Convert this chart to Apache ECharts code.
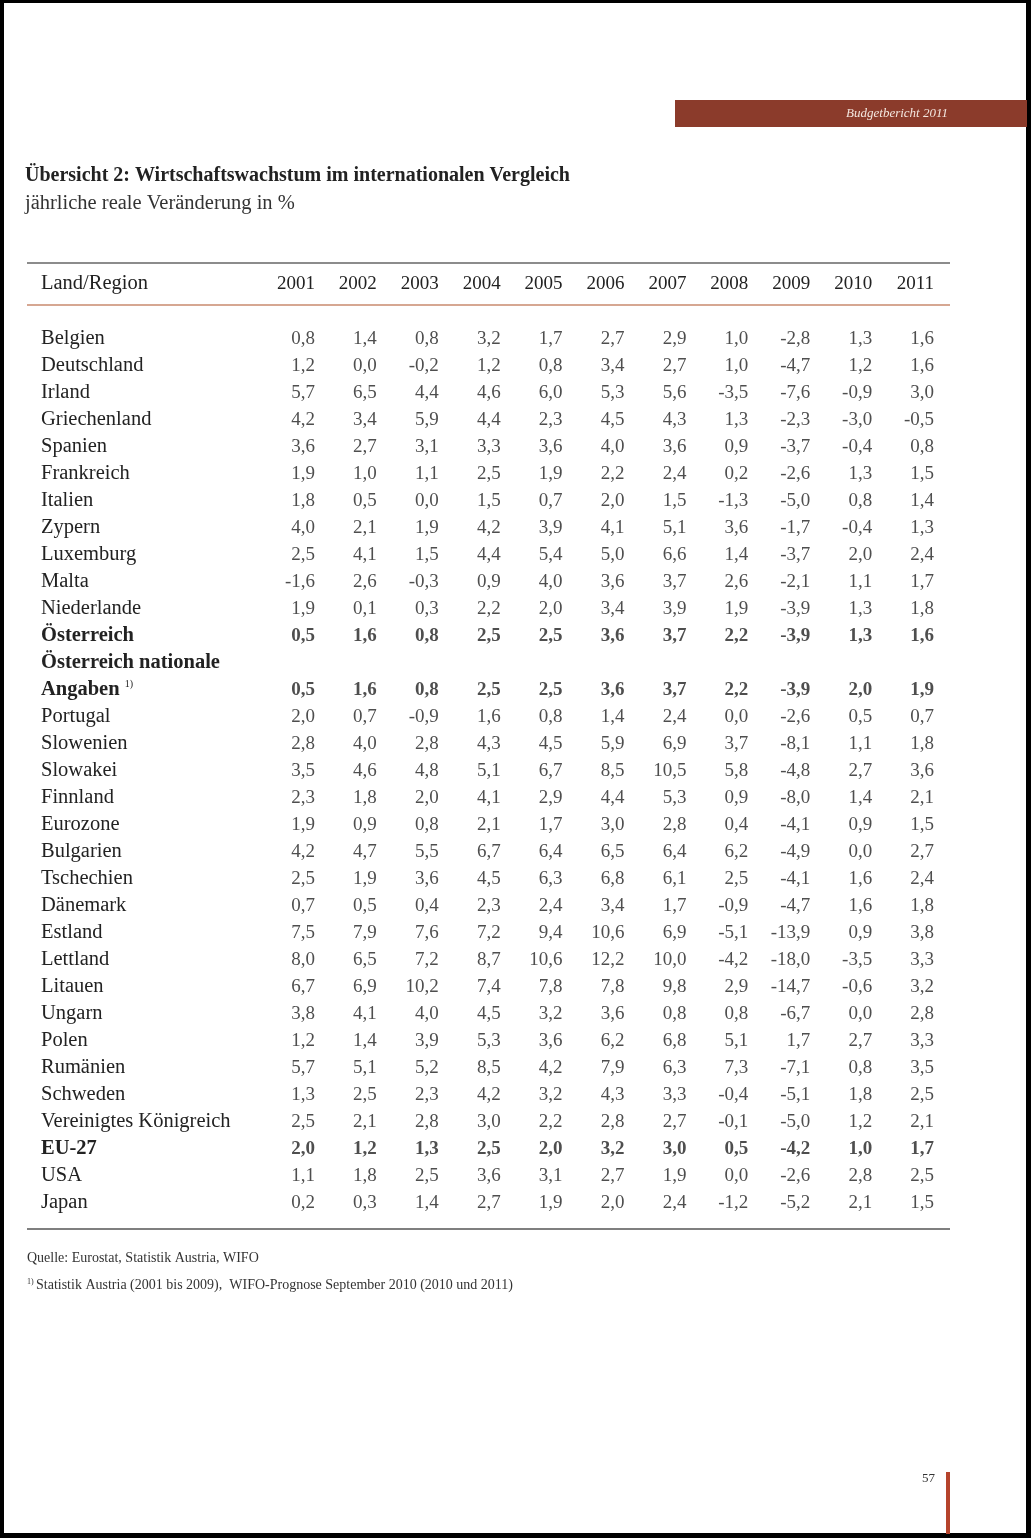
<!DOCTYPE html>
<html>
<head>
<meta charset="utf-8">
<script src="https://cdn.jsdelivr.net/npm/echarts@6/dist/echarts.min.js"></script>
<style>
html,body{margin:0;padding:0;background:#000;}
#paper{position:absolute;left:4px;top:3px;width:1022px;height:1530px;background:#fff;}
#chart{position:absolute;left:0;top:0;width:1031px;height:1538px;}
</style>
</head>
<body>
<div id="paper"></div>
<div id="chart"></div>
<script>
// ---- data ----
const years = ['2001','2002','2003','2004','2005','2006','2007','2008','2009','2010','2011'];
const countries = ['Belgien','Deutschland','Irland','Griechenland','Spanien','Frankreich','Italien','Zypern','Luxemburg','Malta','Niederlande','Österreich','Österreich nationale','Angaben','Portugal','Slowenien','Slowakei','Finnland','Eurozone','Bulgarien','Tschechien','Dänemark','Estland','Lettland','Litauen','Ungarn','Polen','Rumänien','Schweden','Vereinigtes Königreich','EU-27','USA','Japan'];
const boldRows = ['Österreich','Österreich nationale','Angaben','EU-27'];

const belgien      = [0.8,1.4,0.8,3.2,1.7,2.7,2.9,1.0,-2.8,1.3,1.6];
const deutschland  = [1.2,0.0,-0.2,1.2,0.8,3.4,2.7,1.0,-4.7,1.2,1.6];
const irland       = [5.7,6.5,4.4,4.6,6.0,5.3,5.6,-3.5,-7.6,-0.9,3.0];
const griechenland = [4.2,3.4,5.9,4.4,2.3,4.5,4.3,1.3,-2.3,-3.0,-0.5];
const spanien      = [3.6,2.7,3.1,3.3,3.6,4.0,3.6,0.9,-3.7,-0.4,0.8];
const frankreich   = [1.9,1.0,1.1,2.5,1.9,2.2,2.4,0.2,-2.6,1.3,1.5];
const italien      = [1.8,0.5,0.0,1.5,0.7,2.0,1.5,-1.3,-5.0,0.8,1.4];
const zypern       = [4.0,2.1,1.9,4.2,3.9,4.1,5.1,3.6,-1.7,-0.4,1.3];
const luxemburg    = [2.5,4.1,1.5,4.4,5.4,5.0,6.6,1.4,-3.7,2.0,2.4];
const malta        = [-1.6,2.6,-0.3,0.9,4.0,3.6,3.7,2.6,-2.1,1.1,1.7];
const niederlande  = [1.9,0.1,0.3,2.2,2.0,3.4,3.9,1.9,-3.9,1.3,1.8];
const oesterreich  = [0.5,1.6,0.8,2.5,2.5,3.6,3.7,2.2,-3.9,1.3,1.6];
const oesterreichNat = [null,null,null,null,null,null,null,null,null,null,null];
const angaben      = [0.5,1.6,0.8,2.5,2.5,3.6,3.7,2.2,-3.9,2.0,1.9];
const portugal     = [2.0,0.7,-0.9,1.6,0.8,1.4,2.4,0.0,-2.6,0.5,0.7];
const slowenien    = [2.8,4.0,2.8,4.3,4.5,5.9,6.9,3.7,-8.1,1.1,1.8];
const slowakei     = [3.5,4.6,4.8,5.1,6.7,8.5,10.5,5.8,-4.8,2.7,3.6];
const finnland     = [2.3,1.8,2.0,4.1,2.9,4.4,5.3,0.9,-8.0,1.4,2.1];
const eurozone     = [1.9,0.9,0.8,2.1,1.7,3.0,2.8,0.4,-4.1,0.9,1.5];
const bulgarien    = [4.2,4.7,5.5,6.7,6.4,6.5,6.4,6.2,-4.9,0.0,2.7];
const tschechien   = [2.5,1.9,3.6,4.5,6.3,6.8,6.1,2.5,-4.1,1.6,2.4];
const daenemark    = [0.7,0.5,0.4,2.3,2.4,3.4,1.7,-0.9,-4.7,1.6,1.8];
const estland      = [7.5,7.9,7.6,7.2,9.4,10.6,6.9,-5.1,-13.9,0.9,3.8];
const lettland     = [8.0,6.5,7.2,8.7,10.6,12.2,10.0,-4.2,-18.0,-3.5,3.3];
const litauen      = [6.7,6.9,10.2,7.4,7.8,7.8,9.8,2.9,-14.7,-0.6,3.2];
const ungarn       = [3.8,4.1,4.0,4.5,3.2,3.6,0.8,0.8,-6.7,0.0,2.8];
const polen        = [1.2,1.4,3.9,5.3,3.6,6.2,6.8,5.1,1.7,2.7,3.3];
const rumaenien    = [5.7,5.1,5.2,8.5,4.2,7.9,6.3,7.3,-7.1,0.8,3.5];
const schweden     = [1.3,2.5,2.3,4.2,3.2,4.3,3.3,-0.4,-5.1,1.8,2.5];
const vk           = [2.5,2.1,2.8,3.0,2.2,2.8,2.7,-0.1,-5.0,1.2,2.1];
const eu27         = [2.0,1.2,1.3,2.5,2.0,3.2,3.0,0.5,-4.2,1.0,1.7];
const usa          = [1.1,1.8,2.5,3.6,3.1,2.7,1.9,0.0,-2.6,2.8,2.5];
const japan        = [0.2,0.3,1.4,2.7,1.9,2.0,2.4,-1.2,-5.2,2.1,1.5];

const rowValues = [belgien,deutschland,irland,griechenland,spanien,frankreich,italien,zypern,luxemburg,malta,niederlande,oesterreich,oesterreichNat,angaben,portugal,slowenien,slowakei,finnland,eurozone,bulgarien,tschechien,daenemark,estland,lettland,litauen,ungarn,polen,rumaenien,schweden,vk,eu27,usa,japan];

// ---- build ----
const FONT = '"Liberation Serif", "DejaVu Serif", serif';
const TXT = '#222';
const LBL = 20.5;
const normalData = [], boldData = [];
rowValues.forEach((vals, r) => {
  vals.forEach((v, c) => {
    if (v === null) return;
    const item = [c, r, v];
    (boldRows.includes(countries[r]) ? boldData : normalData).push(item);
  });
});
const fmt = p => p.value[2].toFixed(1).replace('.', ',');
const labelBase = {
  show: true, position: 'inside', align: 'right', verticalAlign: 'middle',
  offset: [31, 0], color: TXT, fontFamily: FONT, fontSize: 19, formatter: fmt
};

const chart = echarts.init(document.getElementById('chart'), null, {renderer: 'canvas'});
chart.setOption({
  backgroundColor: 'transparent',
  animation: false,
  grid: {left: 253, right: 97, top: 325.5, height: 891, containLabel: false},
  xAxis: {
    type: 'category', data: years, position: 'top',
    axisLine: {show: false}, axisTick: {show: false}, splitLine: {show: false},
    axisLabel: {
      interval: 0, margin: 41, verticalAlign: 'middle', align: 'center',
      formatter: v => '{y|' + v + '}',
      rich: {y: {width: 62, align: 'right', fontFamily: FONT, fontSize: 19, color: TXT}}
    }
  },
  yAxis: {
    type: 'category', data: countries, inverse: true,
    axisLine: {show: false}, axisTick: {show: false}, splitLine: {show: false},
    axisLabel: {
      interval: 0, margin: 212, align: 'left', verticalAlign: 'middle',
      fontFamily: FONT, fontSize: LBL, color: TXT,
      formatter: v => {
        if (v === 'Angaben') return '{b|Angaben} {s|1)}';
        if (boldRows.includes(v)) return '{b|' + v + '}';
        return '{n|' + v + '}';
      },
      rich: {
        n: {fontFamily: FONT, fontSize: LBL, color: TXT},
        b: {fontFamily: FONT, fontSize: LBL, fontWeight: 'bold', color: TXT},
        s: {fontFamily: FONT, fontSize: 10, color: TXT, verticalAlign: 'top', padding: [0, 0, 8, 0]}
      }
    }
  },
  series: [
    {type: 'scatter', symbolSize: 0, data: normalData, label: labelBase, silent: true},
    {type: 'scatter', symbolSize: 0, data: boldData,
     label: Object.assign({}, labelBase, {fontWeight: 'bold'}), silent: true}
  ],
  graphic: [
    {type: 'rect', shape: {x: 675, y: 100, width: 352, height: 27}, style: {fill: '#8b3b2b'}},
    {type: 'text', x: 948, y: 114, style: {text: 'Budgetbericht 2011', fill: '#f3e6df', font: 'italic 13px ' + FONT, textAlign: 'right', textVerticalAlign: 'middle'}},
    {type: 'text', x: 25, y: 176, style: {text: 'Übersicht 2: Wirtschaftswachstum im internationalen Vergleich', fill: TXT, font: 'bold 20px ' + FONT, textVerticalAlign: 'middle'}},
    {type: 'text', x: 25, y: 204, style: {text: 'jährliche reale Veränderung in %', fill: '#333', font: '20.5px ' + FONT, textVerticalAlign: 'middle'}},
    {type: 'line', shape: {x1: 27, y1: 263, x2: 950, y2: 263}, style: {stroke: '#666', lineWidth: 1.5}},
    {type: 'text', x: 41, y: 284, style: {text: 'Land/Region', fill: TXT, font: LBL + 'px ' + FONT, textVerticalAlign: 'middle'}},
    {type: 'line', shape: {x1: 27, y1: 305, x2: 950, y2: 305}, style: {stroke: '#c98a6e', lineWidth: 1.5}},
    {type: 'line', shape: {x1: 27, y1: 1229, x2: 950, y2: 1229}, style: {stroke: '#555', lineWidth: 1.5}},
    {type: 'text', x: 27, y: 1258, style: {text: 'Quelle: Eurostat, Statistik Austria, WIFO', fill: '#333', font: '14px ' + FONT, textVerticalAlign: 'middle'}},
    {type: 'text', x: 27, y: 1282, style: {text: '1)', fill: '#333', font: '8px ' + FONT, textVerticalAlign: 'middle'}},
    {type: 'text', x: 36, y: 1285, style: {text: 'Statistik Austria (2001 bis 2009),  WIFO-Prognose September 2010 (2010 und 2011)', fill: '#333', font: '14px ' + FONT, textVerticalAlign: 'middle'}},
    {type: 'text', x: 935, y: 1479, style: {text: '57', fill: '#333', font: '13px ' + FONT, textAlign: 'right', textVerticalAlign: 'middle'}},
    {type: 'rect', shape: {x: 946, y: 1472, width: 4, height: 62}, style: {fill: '#b5432c'}}
  ]
});
</script>
</body>
</html>
